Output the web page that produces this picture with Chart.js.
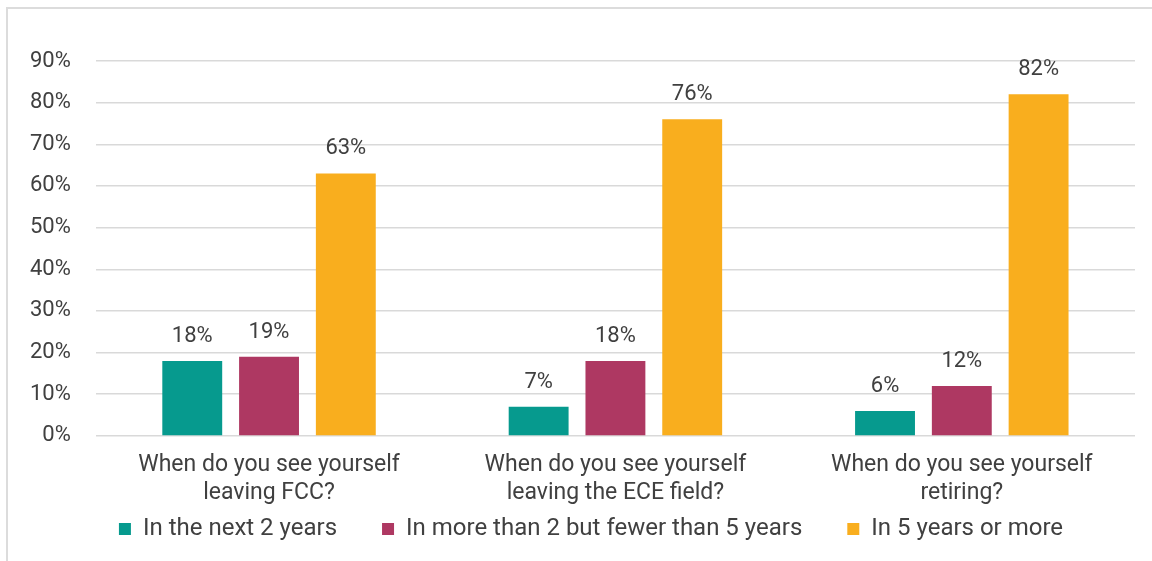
<!DOCTYPE html>
<html>
<head>
<meta charset="utf-8">
<script src="https://cdn.jsdelivr.net/npm/chart.js@4/dist/chart.umd.min.js"></script>
<style>
  html, body { margin: 0; padding: 0; background: #fff; }
  #wrap { position: relative; width: 1152px; height: 561px; }
  #frame {
    position: absolute; left: 6px; top: 7px; right: 0; bottom: 0;
    border-top: 2px solid #dcdcdc; border-left: 2px solid #dcdcdc;
  }
  #chart { position: absolute; left: 0; top: 0; }
</style>
</head>
<body>
<div id="wrap">
  <div id="frame"></div>
  <canvas id="chart" width="1152" height="561"></canvas>
</div>
<script>
const questions = [
  ['When do you see yourself', 'leaving FCC?'],
  ['When do you see yourself', 'leaving the ECE field?'],
  ['When do you see yourself', 'retiring?']
];
const seriesNames = ['In the next 2 years', 'In more than 2 but fewer than 5 years', 'In 5 years or more'];
const nextTwoYears = [18, 7, 6];
const twoToFiveYears = [19, 18, 12];
const fiveOrMore = [63, 76, 82];
const yTicks = [0, 10, 20, 30, 40, 50, 60, 70, 80, 90];

const textColor = '#404040';
const fontFamily = 'Roboto, "Liberation Sans", sans-serif';

// value labels drawn above each bar
const valueLabels = {
  id: 'valueLabels',
  afterDatasetsDraw(chart) {
    const ctx = chart.ctx;
    ctx.save();
    ctx.font = '22px ' + fontFamily;
    ctx.fillStyle = textColor;
    ctx.textAlign = 'center';
    ctx.textBaseline = 'alphabetic';
    chart.data.datasets.forEach((ds, i) => {
      chart.getDatasetMeta(i).data.forEach((bar, j) => {
        ctx.fillText(ds.data[j] + '%', bar.x, bar.y - 19);
      });
    });
    ctx.restore();
  }
};

// the wide item gap also pads the legend vertically, so pull it up under the axis labels
const legendNudge = {
  id: 'legendNudge',
  afterLayout(chart) {
    const lg = chart.legend;
    lg.top -= 42;
    lg.bottom -= 42;
    lg.left += 21;
    lg.right += 21;
  }
};

const ctx = document.getElementById('chart').getContext('2d');
new Chart(ctx, {
  type: 'bar',
  data: {
    labels: questions,
    datasets: [
      { label: seriesNames[0], data: nextTwoYears, backgroundColor: '#069a8e' },
      { label: seriesNames[1], data: twoToFiveYears, backgroundColor: '#ae3862' },
      { label: seriesNames[2], data: fiveOrMore, backgroundColor: '#f9ae1e' }
    ]
  },
  options: {
    responsive: false,
    animation: false,
    layout: { autoPadding: false, padding: { top: 61, right: 17, bottom: -28, left: 5 } },
    datasets: {
      bar: { categoryPercentage: 0.665, barPercentage: 0.78 }
    },
    plugins: {
      legend: {
        position: 'bottom',
        maxHeight: 75,
        labels: {
          boxWidth: 12,
          boxHeight: 12,
          padding: 45,
          color: textColor,
          font: { family: fontFamily, size: 24 }
        }
      },
      tooltip: { enabled: false }
    },
    scales: {
      x: {
        grid: { display: false },
        border: { display: false },
        ticks: {
          color: textColor,
          padding: 7,
          maxRotation: 0,
          font: { family: fontFamily, size: 23, lineHeight: 1.22 }
        }
      },
      y: {
        min: 0,
        max: 90,
        afterBuildTicks(axis) {
          axis.ticks = yTicks.map(v => ({ value: v }));
        },
        grid: { color: '#d9d9d9', lineWidth: 1.5, drawTicks: false },
        border: { display: false },
        ticks: {
          color: textColor,
          padding: 25,
          font: { family: fontFamily, size: 22 },
          callback: v => v + '%'
        }
      }
    }
  },
  plugins: [valueLabels, legendNudge]
});
</script>
</body>
</html>
